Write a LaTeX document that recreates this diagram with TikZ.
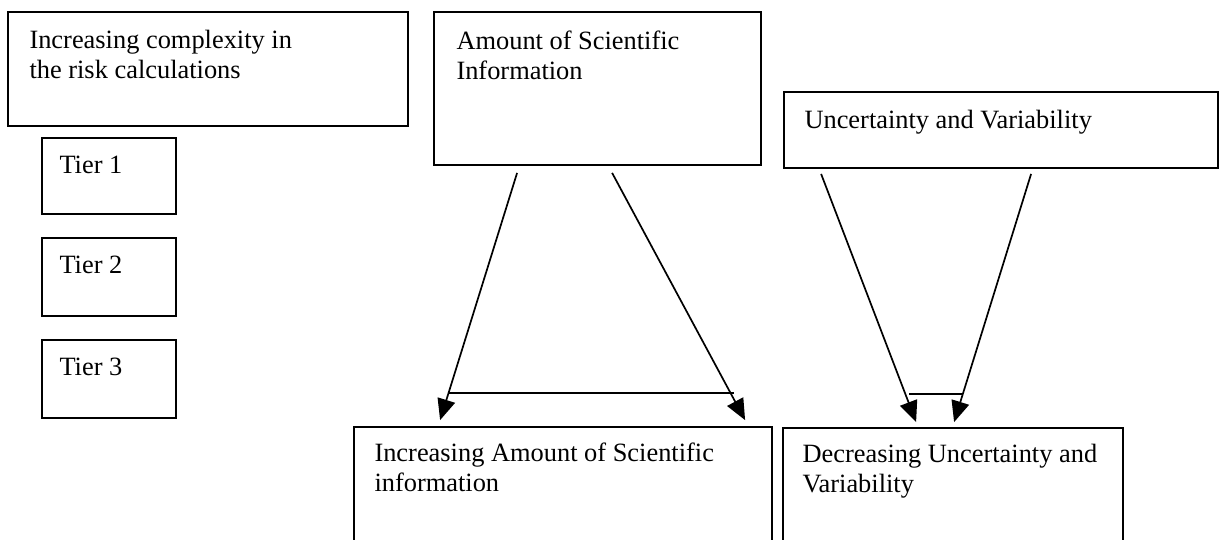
\documentclass[tikz,border=0pt]{standalone}
\usepackage{fontspec}
\setmainfont{Liberation Serif}
\usetikzlibrary{arrows.meta,calc}
\begin{document}
\begin{tikzpicture}[x=0.5pt,y=-0.5pt,
  box/.style={draw,line width=0.9pt,inner sep=0pt},
  txt/.style={anchor=north west,inner sep=0pt,align=left,font=\fontsize{13.2}{15}\selectfont},
  arr/.style={line width=0.85pt,-{Triangle[length=10.5pt,width=9pt]}},
  bar/.style={line width=0.95pt}]
\useasboundingbox (0,0) rectangle (1220,540);
\clip (0,0) rectangle (1220,540);
% boxes
\node[box,minimum width=200pt,minimum height=57pt] (cplx) at (208,69) {};
\node[box,minimum width=67pt,minimum height=38pt] (t1) at (109,176) {};
\node[box,minimum width=67pt,minimum height=39pt] (t2) at (109,277) {};
\node[box,minimum width=67pt,minimum height=39pt] (t3) at (109,379) {};
\node[box,minimum width=163.5pt,minimum height=76.5pt] (amt) at (597.5,88.5) {};
\node[box,minimum width=217pt,minimum height=38pt] (unc) at (1001,130) {};
\node[box,minimum width=209pt,minimum height=66.5pt] (inc) at (563,493.5) {};
\node[box,minimum width=170pt,minimum height=66pt] (dec) at (953,494) {};
% texts
\node[txt] (cplxT) at ($(cplx.north west)+(22,19)$) {Increasing complexity in\\the risk calculations};
\node[txt] (t1T) at ($(t1.north west)+(18,19)$) {Tier 1};
\node[txt] (t2T) at ($(t2.north west)+(18,19)$) {Tier 2};
\node[txt] (t3T) at ($(t3.north west)+(18,19)$) {Tier 3};
\node[txt] (amtT) at ($(amt.north west)+(23,19)$) {Amount of Scientific\\Information};
\node[txt] (uncT) at ($(unc.north west)+(21,19)$) {Uncertainty and Variability};
\node[txt] (incT) at ($(inc.north west)+(21,16)$) {Increasing Amount of Scientific\\information};
\node[txt] (decT) at ($(dec.north west)+(20,17)$) {Decreasing Uncertainty and\\Variability};
% arrows
\draw[arr] ($(amt.south west)+(84,7)$) -- coordinate[pos=0.892] (h1) ($(inc.north west)+(87,-6)$);
\draw[arr] ($(amt.south west)+(179,7)$) -- coordinate[pos=0.892] (h2) ($(inc.north west)+(392,-6)$);
\draw[bar] ($(h1)+(1,0)$) -- ($(h2)+(3,0)$);
\draw[arr] ($(unc.south west)+(38,5)$) -- coordinate[pos=0.888] (h3) ($(dec.north west)+(134,-5)$);
\draw[arr] ($(unc.south west)+(248,5)$) -- coordinate[pos=0.888] (h4) ($(dec.north west)+(172,-5)$);
\draw[bar] ($(h3)+(4,0)$) -- (h4);
\end{tikzpicture}
\end{document}
